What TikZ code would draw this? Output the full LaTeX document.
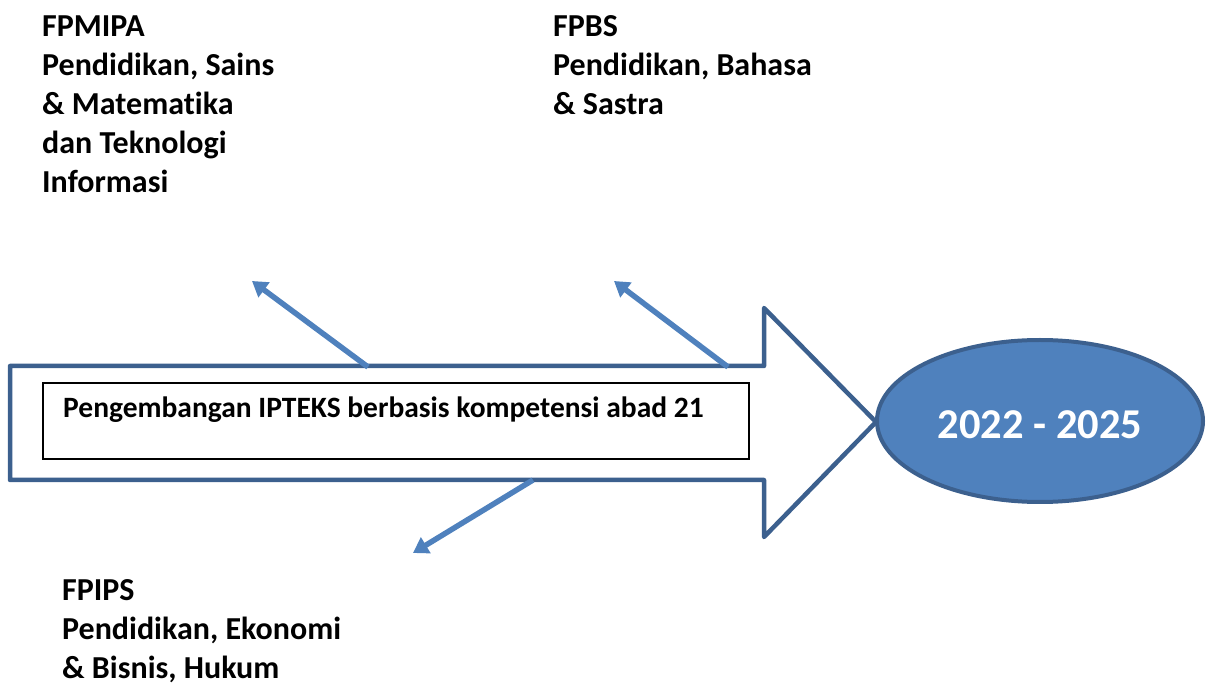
\documentclass[tikz,border=0pt]{standalone}
\usepackage{fontspec}
\setmainfont{Carlito}[Ligatures={NoCommon}]
\usetikzlibrary{arrows.meta,shapes.geometric}
\definecolor{edgeblue}{RGB}{60,96,142}
\definecolor{fillblue}{RGB}{79,129,189}
\tikzset{
  lbl/.style={anchor=base west, inner sep=0pt, align=left, font=\fontsize{32}{39}\selectfont\bfseries},
  bigarrow/.style={draw=edgeblue, line width=4.5pt, line join=round, fill=white},
  ptr/.style={draw=fillblue, line width=5.5pt, -{Triangle[length=15pt,width=18pt]}},
}
\begin{document}
\begin{tikzpicture}[x=1pt,y=-1pt]
\useasboundingbox (0,0) rectangle (1211,684);
% big arrow
\draw[bigarrow] (10,366) -- (764,366) -- (764,308) -- (876,422) -- (764,537) -- (764,480) -- (10,480) -- cycle;
% inner box
\node[draw=black, line width=1.3pt, minimum width=706pt, minimum height=76pt, inner sep=0pt] (box) at (396,421) {};
\node[anchor=base west, inner sep=0pt, font=\fontsize{29.5}{34}\selectfont\bfseries] (boxtext) at (63,418) {Pengembangan IPTEKS berbasis kompetensi abad 21};
% ellipse
\node[ellipse, draw=edgeblue, fill=fillblue, line width=4pt, minimum width=326pt, minimum height=162pt, inner sep=0pt, text=white, text height=35pt, text depth=0pt, font=\fontsize{42.5}{46}\selectfont\bfseries] (years) at (1040,421) {2022 - 2025};
% pointer coordinates
\coordinate (s1) at (368,367);
\coordinate (e1) at (252,281);
\coordinate (s2) at (728,367);
\coordinate (e2) at (614,281);
\coordinate (s3) at (533,480);
\coordinate (e3) at (413,553);
\draw[ptr] (s1) -- (e1);
\draw[ptr] (s2) -- (e2);
\draw[ptr] (s3) -- (e3);
% labels (anchored at the baseline of their last line)
\node[lbl] (mipa) at (42,193) {FPMIPA\\Pendidikan, Sains\\\& Matematika\\dan Teknologi\\Informasi};
\node[lbl] (pbs) at (553,115) {FPBS\\Pendidikan, Bahasa\\\& Sastra};
\node[lbl] (ips) at (62,678) {FPIPS\\Pendidikan, Ekonomi\\\& Bisnis, Hukum};
\end{tikzpicture}
\end{document}
